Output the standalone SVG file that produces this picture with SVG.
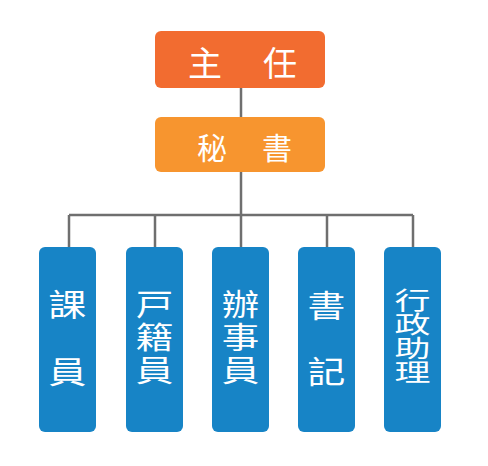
<svg xmlns="http://www.w3.org/2000/svg" width="488" height="466" viewBox="0 0 488 466">
<style>
.t{font-family:"Noto Sans CJK TC","Noto Sans CJK JP",sans-serif;fill:#fff;text-anchor:middle;dominant-baseline:central}
.v{font-family:"Noto Sans CJK TC","Noto Sans CJK JP",sans-serif;fill:#fff;text-anchor:middle;writing-mode:vertical-rl}
.b{fill:#1784C6}
.c{stroke:#6f6f6f;stroke-width:2.5;fill:none}
</style>
<rect width="488" height="466" fill="#fff"/>
<g id="connectors">
<path class="c" d="M241 88V117M241 172V215M69 215H413M69 215V247M155 215V247M241 215V247M327 215V247M413 215V247"/>
</g>
<g id="n-chief">
<rect x="155" y="31" width="170" height="57" rx="6" fill="#F26C30"/>
<text class="t" x="205" y="61" font-size="34">主</text>
<text class="t" x="280" y="61" font-size="34">任</text>
</g>
<g id="n-secretary">
<rect x="155" y="117" width="170" height="55" rx="6" fill="#F7952F"/>
<text class="t" x="212" y="146" font-size="30">秘</text>
<text class="t" x="277" y="146" font-size="30">書</text>
</g>
<g id="n-1">
<rect class="b" x="39" y="247" width="57" height="185" rx="6"/>
<g transform="translate(67.5 0) scale(1.22 1)">
<text class="t" x="0" y="303" font-size="31">課</text>
<text class="t" x="0" y="370" font-size="31">員</text>
</g>
</g>
<g id="n-2">
<rect class="b" x="126" y="247" width="57" height="185" rx="6"/>
<g transform="translate(154.5 0) scale(1.25 1)">
<text class="v" x="0" y="338.5" font-size="30" letter-spacing="3">戸籍員</text>
</g>
</g>
<g id="n-3">
<rect class="b" x="212" y="247" width="57" height="185" rx="6"/>
<g transform="translate(240.5 0) scale(1.25 1)">
<text class="v" x="0" y="338.5" font-size="30" letter-spacing="3">辦事員</text>
</g>
</g>
<g id="n-4">
<rect class="b" x="298" y="247" width="57" height="185" rx="6"/>
<g transform="translate(326.5 0) scale(1.22 1)">
<text class="t" x="0" y="304" font-size="31">書</text>
<text class="t" x="0" y="370" font-size="31">記</text>
</g>
</g>
<g id="n-5">
<rect class="b" x="384" y="247" width="57" height="185" rx="6"/>
<g transform="translate(412.5 0) scale(1.5 1)">
<text class="v" x="0" y="336" font-size="24">行政助理</text>
</g>
</g>
</svg>
